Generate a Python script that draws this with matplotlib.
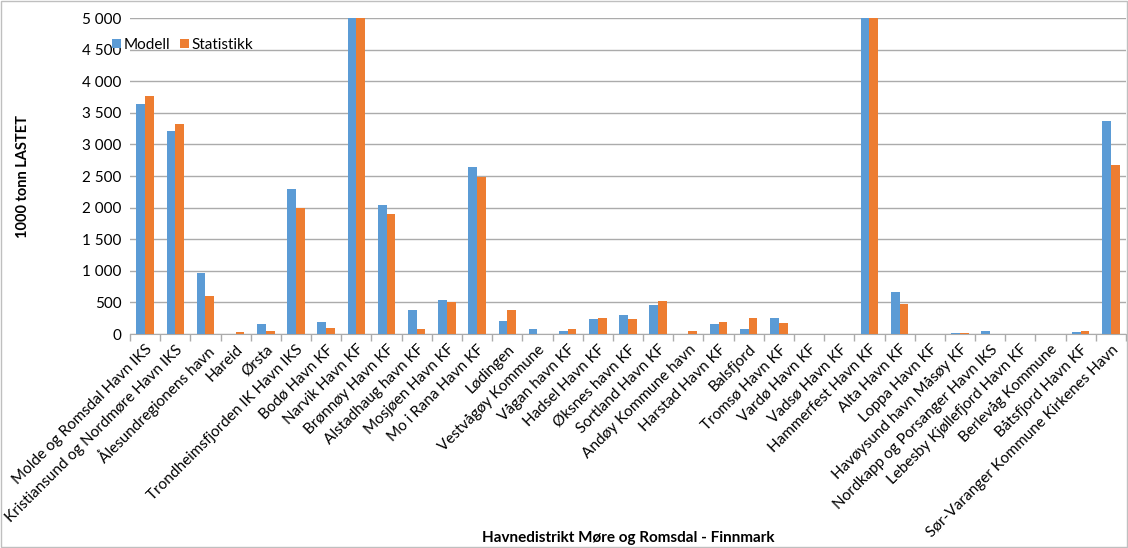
import numpy as np
import matplotlib
matplotlib.use("Agg")
import matplotlib.pyplot as plt
from matplotlib.ticker import FuncFormatter, FixedLocator
from matplotlib.patches import Rectangle

havner = [
    "Molde og Romsdal Havn IKS", "Kristiansund og Nordmøre Havn IKS", "Ålesundregionens havn",
    "Hareid", "Ørsta", "Trondheimsfjorden IK Havn IKS", "Bodø Havn KF", "Narvik Havn KF",
    "Brønnøy Havn KF", "Alstadhaug havn KF", "Mosjøen Havn KF", "Mo i Rana Havn KF",
    "Lødingen", "Vestvågøy Kommune", "Vågan havn KF", "Hadsel Havn KF", "Øksnes havn KF",
    "Sortland Havn KF", "Andøy Kommune havn", "Harstad Havn KF", "Balsfjord",
    "Tromsø Havn KF", "Vardø Havn KF", "Vadsø Havn KF", "Hammerfest Havn KF", "Alta Havn KF",
    "Loppa Havn KF", "Havøysund havn Måsøy KF", "Nordkapp og Porsanger Havn IKS",
    "Lebesby Kjøllefjord Havn KF", "Berlevåg Kommune", "Båtsfjord Havn KF",
    "Sør-Varanger Kommune Kirkenes Havn",
]
modell = [3645, 3215, 965, 0, 160, 2290, 185, 5000, 2045, 378, 532, 2635,
          207, 80, 43, 239, 303, 463, 0, 160, 74, 250, 0, 0, 5000, 660,
          0, 16, 48, 0, 0, 32, 3370]
statistikk = [3760, 3325, 600, 30, 45, 2000, 95, 5000, 1900, 74, 511, 2480,
              385, 0, 80, 261, 234, 521, 43, 186, 250, 176, 0, 0, 5000, 468,
              0, 21, 0, 0, 0, 53, 2680]

BLUE = "#5B9BD5"; ORANGE = "#ED7D31"; GRID = "#ABABAB"
plt.rcParams["font.family"] = ["Lato", "DejaVu Sans"]

fig = plt.figure(figsize=(11.28, 5.48), dpi=100)
ax = fig.add_axes([130/1128, 1-334/548, (1126-130)/1128, (334-18)/548])

x = np.arange(len(havner))
w = 0.29
ax.bar(x - w/2, modell, w, color=BLUE, label="Modell", zorder=3)
ax.bar(x + w/2, statistikk, w, color=ORANGE, label="Statistikk", zorder=3)

ax.set_xlim(-0.5, len(havner) - 0.5)
ax.set_ylim(0, 5000)
ax.set_yticks(np.arange(0, 5001, 500))
ax.yaxis.set_major_formatter(FuncFormatter(lambda v, p: f"{int(v):,}".replace(",", " ")))
ax.grid(axis="y", color=GRID, lw=1, zorder=0)
for sp in ["top", "right", "left"]:
    ax.spines[sp].set_visible(False)
ax.spines["bottom"].set_color(GRID)
ax.tick_params(axis="y", length=0, labelsize=11, colors="#000000", pad=6)

ax.set_xticks(x)
ax.set_xticklabels(havner, rotation=45, ha="right", rotation_mode="anchor", fontsize=11)
ax.tick_params(axis="x", which="major", length=0, pad=6)
ax.xaxis.set_minor_locator(FixedLocator(np.arange(-0.5, len(havner), 1)))
ax.tick_params(axis="x", which="minor", length=5, color=GRID, width=1)

ax.set_ylabel("1000 tonn LASTET", fontsize=10.5, fontweight="bold")
ax.yaxis.set_label_coords((30-130)/996, 0.5)
fig.text(628/1128, 1-538/548, "Havnedistrikt Møre og Romsdal - Finnmark",
         ha="center", va="center", fontsize=11, fontweight="bold")

fig.legend(loc="center left", bbox_to_anchor=(104/1128, 1-45/548), ncol=2, frameon=False,
           fontsize=11, handlelength=0.6, handleheight=0.6, handletextpad=0.2,
           columnspacing=0.6, borderpad=0)

fig.patches.append(Rectangle((1/1128, 1/548), 1-2/1128, 1-2/548, transform=fig.transFigure,
                             fill=False, edgecolor="#BFBFBF", lw=1))

fig.savefig("out.png", dpi=100, facecolor="white")
